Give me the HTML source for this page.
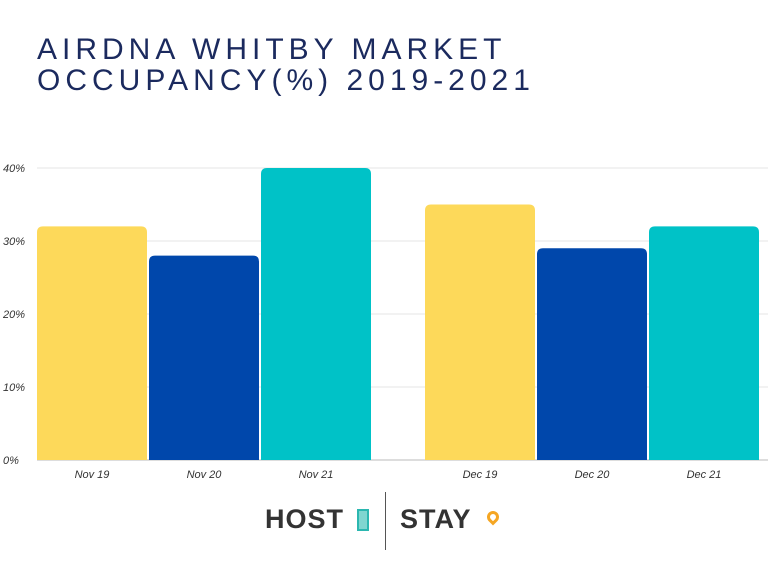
<!DOCTYPE html>
<html><head><meta charset="utf-8"><style>
body{margin:0;width:768px;height:576px;background:#fff;overflow:hidden;font-family:"Liberation Sans",sans-serif}
.title{position:absolute;left:37px;top:34px;font-size:30px;letter-spacing:5px;color:#1b2a5e;line-height:31px;font-weight:normal}
</style></head><body>
<div class="title">AIRDNA WHITBY MARKET<br>OCCUPANCY(%) 2019-2021</div>
<svg id="chart" width="768" height="576" style="position:absolute;left:0;top:0"></svg>
<script>
const categories=["Nov 19","Nov 20","Nov 21","Dec 19","Dec 20","Dec 21"];
const values=[32,28,40,35,29,32];
const colors=["#fdd95a","#0047ab","#00c2c7","#fdd95a","#0047ab","#00c2c7"];
const ticks=[0,10,20,30,40];
const tickLabels=["0%","10%","20%","30%","40%"];
const NS="http://www.w3.org/2000/svg";
const svg=document.getElementById('chart');
const y=v=>460-v*7.3;
const bx=i=>37+i*112+(i>=3?52:0);
function mk(t,a){const e=document.createElementNS(NS,t);for(const k in a)e.setAttribute(k,a[k]);svg.appendChild(e);return e;}
ticks.forEach((t,i)=>{
 const l=mk('line',{x1:37,x2:768,y1:y(t),y2:y(t),stroke:i==0?'#bbb':'#e4e4e4','stroke-width':1});
 
 
 const tx=mk('text',{x:3,y:y(t)+4,'font-size':11,'font-style':'italic',fill:'#333'});
 tx.textContent=tickLabels[i];
 
 
});
values.forEach((v,i)=>{
 const x=bx(i),h=460-y(v);
 const p=mk('path',{d:`M${x} 460V${y(v)+6}Q${x} ${y(v)} ${x+6} ${y(v)}H${x+104}Q${x+110} ${y(v)} ${x+110} ${y(v)+6}V460Z`,fill:colors[i]});
 
 
 const tx=mk('text',{x:x+55,y:478,'font-size':11,'font-style':'italic','text-anchor':'middle',fill:'#333'});
 tx.textContent=categories[i];
 
 
});
</script>
<div style="position:absolute;left:265px;top:492px;width:250px;height:58px">
 <span style="position:absolute;left:0;top:12px;font-size:27px;font-weight:bold;color:#333;letter-spacing:1px">HOST</span>
 <div style="position:absolute;left:92px;top:17px;width:12px;height:22px;border:2px solid #2bb7b0;box-sizing:border-box;background:#7fd6d0"></div>
 <div style="position:absolute;left:120px;top:0;width:1px;height:58px;background:#555"></div>
 <span style="position:absolute;left:135px;top:12px;font-size:27px;font-weight:bold;color:#333;letter-spacing:1px">STAY</span>
 <div style="position:absolute;left:222px;top:19px;width:12px;height:12px;border:3px solid #f5a623;border-radius:50% 50% 50% 0;transform:rotate(-45deg);box-sizing:border-box"></div>
</div>
</body></html>
